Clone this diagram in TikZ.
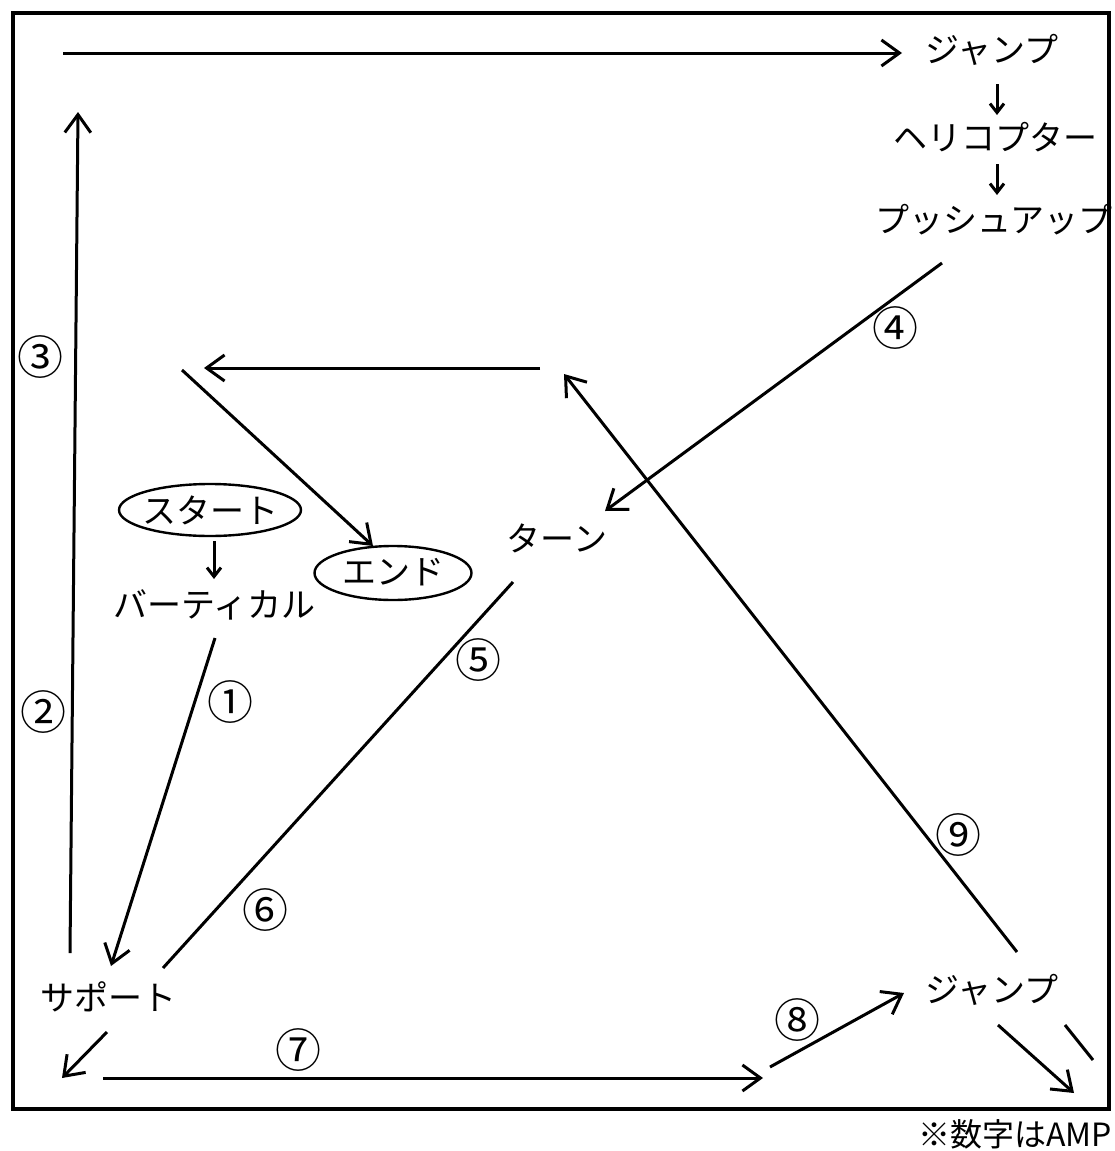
\documentclass[tikz,border=0pt]{standalone}
\usepackage{fontspec}
\setmainfont{Noto Sans CJK JP}
\usetikzlibrary{arrows.meta,shapes.geometric}
\begin{document}
\begin{tikzpicture}[x=1pt,y=-1pt,
  lbl/.style={font=\fontsize{34}{34}\selectfont, inner sep=0pt},
  num/.style={font=\fontsize{46}{46}\selectfont, inner sep=0pt},
  oval/.style={draw, ellipse, line width=2.4pt, inner sep=0pt},
  conn/.style={line width=3pt, -{Straight Barb[length=18pt,width=26pt,line width=3pt]}},
  small/.style={line width=3pt, -{Straight Barb[length=9pt,width=14pt,line width=3pt]}},
  plain/.style={line width=3pt}]
\useasboundingbox (0,0) rectangle (1115,1151);
\draw[line width=3.5pt] (13,13) rectangle (1109,1109);

% nodes
\node[lbl] (jump1) at (992,50) {ジャンプ};
\node[lbl] (heli) at (995,137) {ヘリコプター};
\node[lbl] (push) at (994,220) {プッシュアップ};
\node[lbl] (turn) at (557,538) {ターン};
\node[oval, minimum width=182pt, minimum height=52pt] (start) at (210,510) {};
\node[lbl] (starttxt) at (210,510) {スタート};
\node[lbl] (vert) at (214,605) {バーティカル};
\node[oval, minimum width=157pt, minimum height=54pt] (end) at (393,573) {};
\node[lbl] (endtxt) at (393,572) {エンド};
\node[lbl] (support) at (108,997) {サポート};
\node[lbl] (jump2) at (992,990) {ジャンプ};
\node[font=\fontsize{32}{32}\selectfont, inner sep=0pt, anchor=east] (note) at (1112,1134) {※数字はAMP};

% coordinates
\coordinate (a1) at (63,53);   \coordinate (a2) at (902,53);
\coordinate (d1) at (997,84);  \coordinate (d2) at (997,115);
\coordinate (d3) at (997,164); \coordinate (d4) at (997,195);
\coordinate (f1) at (942,263); \coordinate (f2) at (605,511);
\coordinate (l1) at (540,368); \coordinate (l2) at (204,368);
\coordinate (e1) at (182,370); \coordinate (e2) at (373,546);
\coordinate (s1) at (214,541); \coordinate (s2) at (214,579);
\coordinate (o1) at (215,638); \coordinate (o2) at (111,966);
\coordinate (u1) at (70,953);  \coordinate (u2) at (78,112);
\coordinate (t1) at (513,582); \coordinate (t2) at (163,968);
\coordinate (n1) at (1017,952);\coordinate (n2) at (564,374);
\coordinate (w1) at (107,1032);\coordinate (w2) at (62,1078);
\coordinate (h1) at (103,1078);\coordinate (h2) at (763,1078);
\coordinate (g1) at (770,1067);\coordinate (g2) at (904,993);
\coordinate (k1) at (998,1025);\coordinate (k2) at (1074,1093);
\coordinate (m1) at (1065,1025);\coordinate (m2) at (1093,1060);

% connectors
\draw[conn] (a1) -- (a2);
\draw[small] (d1) -- (d2);
\draw[small] (d3) -- (d4);
\draw[conn] (f1) -- (f2);
\draw[conn] (l1) -- (l2);
\draw[conn] (e1) -- (e2);
\draw[small] (s1) -- (s2);
\draw[conn] (o1) -- (o2);
\draw[conn] (u1) -- (u2);
\draw[plain] (t1) -- (t2);
\draw[conn] (n1) -- (n2);
\draw[conn] (w1) -- (w2);
\draw[conn] (h1) -- (h2);
\draw[conn] (g1) -- (g2);
\draw[conn] (k1) -- (k2);
\draw[plain] (m1) -- (m2);

% labels
\node[num] (c1) at (230,702) {①};
\node[num] (c2) at (43,712) {②};
\node[num] (c3) at (40,357) {③};
\node[num] (c4) at (895,328) {④};
\node[num] (c5) at (478,660) {⑤};
\node[num] (c6) at (265,910) {⑥};
\node[num] (c7) at (298,1050) {⑦};
\node[num] (c8) at (797,1020) {⑧};
\node[num] (c9) at (958,835) {⑨};
\end{tikzpicture}
\end{document}
